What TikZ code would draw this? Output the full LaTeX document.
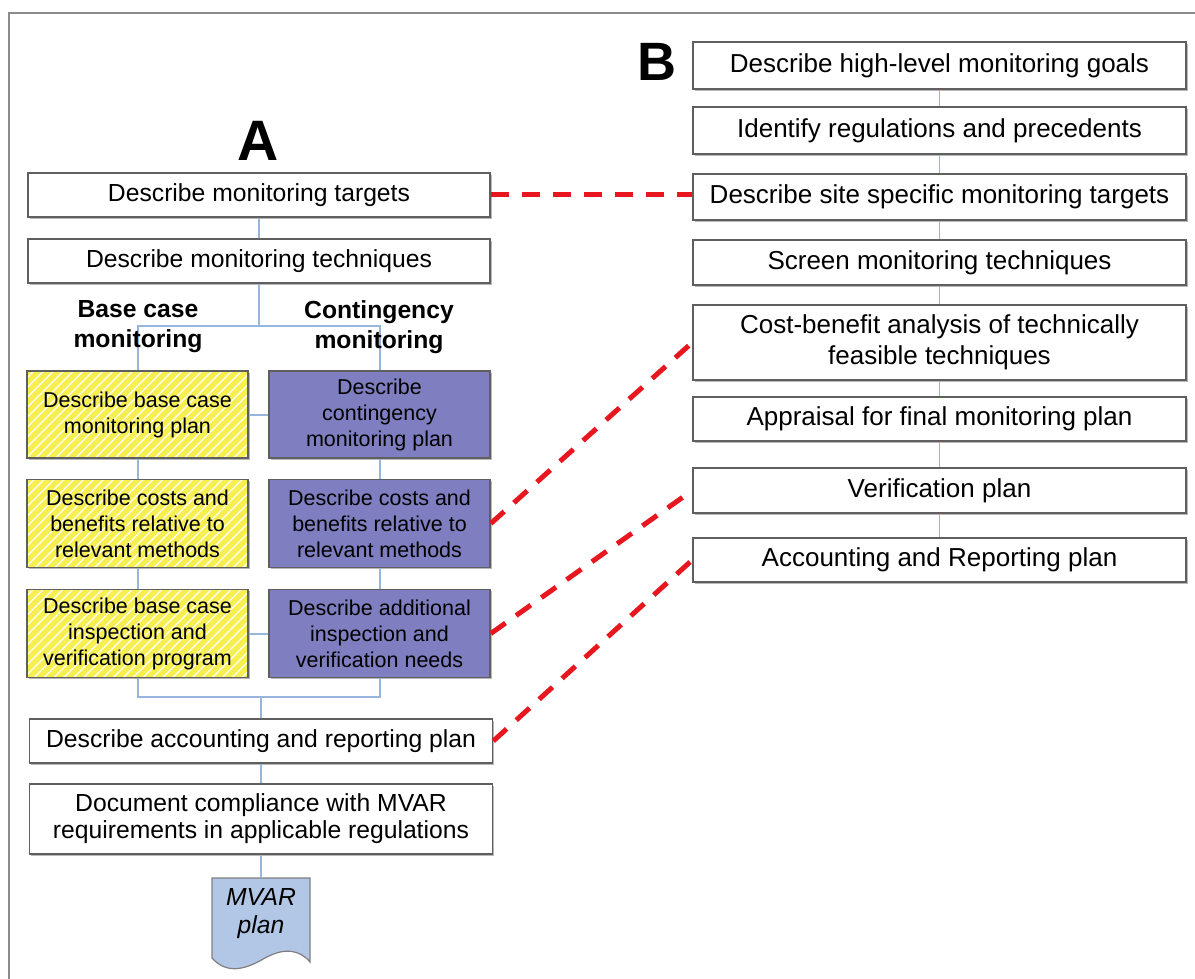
\documentclass[tikz,border=0pt]{standalone}
\usepackage{fontspec}
\setmainfont{Liberation Sans}
\usetikzlibrary{shadows,patterns.meta}

\definecolor{boxline}{RGB}{95,95,95}
\definecolor{linkblue}{RGB}{150,182,222}
\definecolor{tiered}{RGB}{232,22,30}
\definecolor{baseyellow}{RGB}{247,238,80}
\definecolor{contpurple}{RGB}{126,126,192}
\definecolor{docblue}{RGB}{178,198,230}
\definecolor{framegray}{RGB}{140,140,140}

\begin{document}
\begin{tikzpicture}[x=1pt,y=-1pt,
  box/.style={draw=boxline, line width=1.6pt, fill=white,
    drop shadow={shadow xshift=1.6pt, shadow yshift=-1.6pt, fill=black!28, opacity=1},
    inner sep=0pt, align=center},
  leftbox/.style={box, font=\fontsize{24.7}{27}\selectfont, minimum width=462pt},
  rightbox/.style={box, font=\fontsize{26}{31}\selectfont, minimum width=493pt},
  basebox/.style={box, fill=none, preaction={fill=baseyellow},
    pattern={Lines[angle=45, distance=7pt, line width=1.4pt]}, pattern color=white!90!baseyellow,
    minimum width=221pt, font=\fontsize{21.5}{26}\selectfont},
  contbox/.style={box, fill=contpurple, minimum width=221pt, font=\fontsize{21.5}{26}\selectfont},
  heading/.style={align=center, font=\bfseries\fontsize{24.7}{30}\selectfont, inner sep=0pt},
  panel/.style={font=\bfseries\fontsize{57}{57}\selectfont, inner sep=0pt},
  link/.style={draw=linkblue, line width=2pt},
  thinlink/.style={draw=linkblue, line width=1.6pt},
  tie/.style={draw=tiered, line width=5pt, dash pattern=on 18pt off 13pt}
]
\useasboundingbox (0,0) rectangle (1195,979);

% outer frame (top and left edges)
\draw[framegray, line width=2pt] (9,979) -- (9,13) -- (1195,13);

% ---------- column A ----------
\node[panel] (labA) at (258,141) {A};

\node[leftbox, minimum height=44pt] (tgt)  at (259,195) {Describe monitoring targets};
\node[leftbox, minimum height=44pt] (tech) at (259,261) {Describe monitoring techniques};

\node[basebox, minimum height=87pt] (ya) at (137.5,414.5) {Describe base case\\monitoring plan};
\node[basebox, minimum height=88pt] (yb) at (137.5,523.5) {Describe costs and\\benefits relative to\\relevant methods};
\node[basebox, minimum height=88pt] (yc) at (137.5,633.5) {Describe base case\\inspection and\\verification program};

\node[contbox, minimum height=87pt] (pa) at (379.5,414.5) {Describe\\contingency\\monitoring plan};
\node[contbox, minimum height=88pt] (pb) at (379.5,523.5) {Describe costs and\\benefits relative to\\relevant methods};
\node[contbox, minimum height=88pt] (pc) at (379.5,633.5) {Describe additional\\inspection and\\verification needs};

\node[leftbox, minimum width=463pt, minimum height=44pt] (acc) at (261,741) {Describe accounting and reporting plan};
\node[leftbox, minimum width=463pt, minimum height=70pt] (doc) at (261,819) {Document compliance with MVAR\\requirements in applicable regulations};

% MVAR plan document sheet
\path[draw=boxline!80, line width=1.2pt, fill=docblue]
  (212,878) -- (310,878) -- (310,962)
  .. controls (300,950) and (285,947) .. (265,958)
  .. controls (248,968) and (228,976) .. (212,958) -- cycle;
\node[inner sep=0pt, minimum width=98pt, minimum height=72pt, align=center,
  font=\itshape\fontsize{24.7}{28}\selectfont] (mvar) at (261,914) {MVAR\\plan};

% connectors of column A
\coordinate (split) at (259,326);
\coordinate (join) at (261,697);
\path[link] (tgt.south) -- (tech.north);
\path[link] (tech.south) -- (split);
\path[link] (ya.north) |- (split) -| (pa.north);
\path[link] (ya.east) -- (pa.west);
\path[link] (ya.south) -- (yb.north);
\path[link] (yb.south) -- (yc.north);
\path[link] (pa.south) -- (pb.north);
\path[link] (pb.south) -- (pc.north);
\path[link] (yc.east) -- (pc.west);
\path[link] (yc.south) |- (join) -| (pc.south);
\path[link] (join) -- (acc.north);
\path[link] (acc.south) -- (doc.north);
\path[link] (doc.south) -- (mvar.north);

\node[heading] (hbase) at (138,327) {Base case\\monitoring};
\node[heading] (hcont) at (379,327) {Contingency\\monitoring};

% ---------- column B ----------
\node[panel, font=\bfseries\fontsize{54}{54}\selectfont] (labB) at (657,62) {B};

\node[rightbox, minimum height=47pt] (g1) at (939.5,65.5)  {Describe high-level monitoring goals};
\node[rightbox, minimum height=47pt] (g2) at (939.5,130.5) {Identify regulations and precedents};
\node[rightbox, minimum height=46pt] (g3) at (939.5,197)   {Describe site specific monitoring targets};
\node[rightbox, minimum height=45pt] (g4) at (939.5,262.5) {Screen monitoring techniques};
\node[rightbox, minimum height=75pt] (g5) at (939.5,342.5) {Cost-benefit analysis of technically\\feasible techniques};
\node[rightbox, minimum height=44pt] (g6) at (939.5,419)   {Appraisal for final monitoring plan};
\node[rightbox, minimum height=45pt] (g7) at (939.5,490.5) {Verification plan};
\node[rightbox, minimum height=44pt] (g8) at (939.5,560)   {Accounting and Reporting plan};

\foreach \a/\b in {g1/g2,g2/g3,g3/g4,g4/g5,g5/g6,g6/g7,g7/g8}
  \path[thinlink] (\a.south) -- (\b.north);

% cross references between the two procedures
\path[tie] (tgt.east) -- (g3.west |- tgt.east);
\path[tie] (pb.east) -- (g5.west);
\path[tie] (pc.east) -- (g7.west);
\path[tie] (acc.east) -- (g8.west);
\end{tikzpicture}
\end{document}
